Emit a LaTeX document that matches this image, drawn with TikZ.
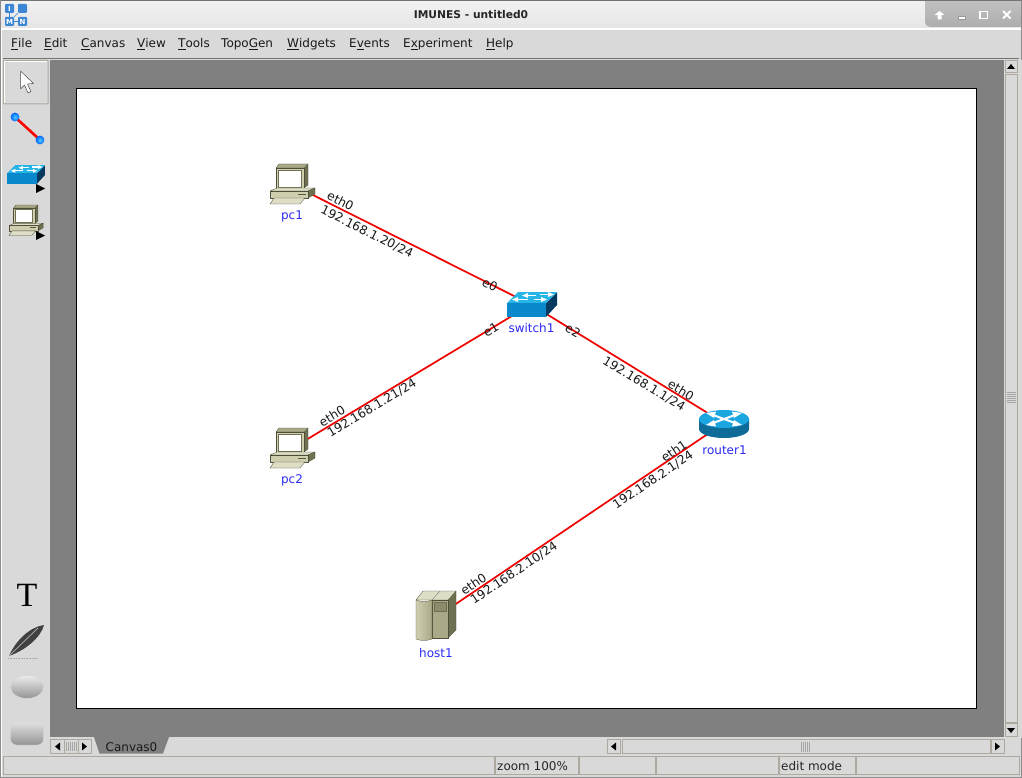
\documentclass[tikz,border=0pt]{standalone}
\usepackage{fontspec}
\setmainfont{DejaVu Sans}
\newfontfamily\serifT{Liberation Serif}
\usetikzlibrary{shapes.geometric}
\definecolor{tkbg}{HTML}{D9D9D9}
\definecolor{tkline}{HTML}{ADA99E}
\definecolor{canvasgray}{HTML}{808080}
\definecolor{labelblue}{HTML}{2A2AF5}
\definecolor{linkred}{HTML}{F00000}
\definecolor{beigeA}{HTML}{CFCFB0}
\definecolor{beigeB}{HTML}{A9A988}
\definecolor{beigeC}{HTML}{6F6F52}
\definecolor{beigeD}{HTML}{DEDEC6}
\definecolor{swfront}{HTML}{0A88CC}
\definecolor{swtop}{HTML}{27B4E6}
\definecolor{swside}{HTML}{063A60}
\definecolor{rttop}{HTML}{1CA6E0}
\definecolor{rtside}{HTML}{0F6C98}
\definecolor{logoblue}{HTML}{3C86D6}
\newcommand{\uc}[1]{\underline{#1}}
\tikzset{
  x=1pt,y=-1pt,
  link/.style={draw=linkred,line width=1.7pt},
  iflabel/.style={font=\fontsize{12.2}{13}\selectfont,text=black!90,inner sep=0pt},
  nodelabel/.style={font=\fontsize{12}{13}\selectfont,text=labelblue,inner sep=0pt},
  menulabel/.style={font=\fontsize{12}{13}\selectfont,text=black!90,inner sep=0pt,anchor=base west},
  statuslabel/.style={font=\fontsize{12}{13}\selectfont,text=black!85,inner sep=0pt,anchor=base west},
  well/.style={draw=tkline,line width=1pt,fill=tkbg},
  iconedge/.style={draw=beigeC!70!black,line width=.3pt,line join=round},
  pc icon/.pic={
    \fill[iconedge,fill=beigeC] (13,-17)--(17,-21)--(17,0)--(13,3)--cycle;
    \fill[iconedge,fill=beigeB] (-15,-17)--(-12,-21)--(17,-21)--(13,-17)--cycle;
    \fill[iconedge,fill=beigeA] (-15,-17) rectangle (13,3);
    \fill[draw=beigeC,line width=.7pt,fill=white] (-13,-15) rectangle (10,2);
    \fill[iconedge,fill=beigeD] (-21,6)--(-14,3)--(24,3)--(17,6)--cycle;
    \fill[iconedge,fill=beigeC] (17,6)--(24,3)--(24,9)--(17,13)--cycle;
    \fill[iconedge,fill=beigeA] (-21,6) rectangle (17,13);
    \draw[beigeC!80!black,line width=.7pt] (7,9)--(15,9);
    \fill[iconedge,fill=beigeD] (-17,13)--(14,13)--(9,19)--(-21,19)--cycle;
  },
  switch icon/.pic={
    \fill[swside] (15,-2)--(26,-13)--(26,0)--(15,12)--cycle;
    \fill[swtop] (-24,-2)--(-13,-13)--(26,-13)--(15,-2)--cycle;
    \fill[swfront] (-24,-2) rectangle (15,12);
    \draw[white,line width=1.3pt] (-6,-9.5)--(5,-9.5);
    \draw[white,line width=1.3pt] (9,-10.5)--(20,-10.5);
    \draw[white,line width=1.3pt] (-15,-5.5)--(-3,-5.5);
    \draw[white,line width=1.3pt] (3,-5.5)--(13,-5.5);
    \fill[white] (-9,-9.5)--(-3,-12)--(-3,-7)--cycle;
    \fill[white] (23,-10.5)--(17,-13)--(17,-8)--cycle;
    \fill[white] (-19,-5.5)--(-13,-8)--(-13,-3)--cycle;
    \fill[white] (16,-5.5)--(10,-8)--(10,-3)--cycle;
  },
  router icon/.pic={
    \fill[rtside] (-25,-5) -- (-25,5) arc[start angle=180,end angle=0,x radius=25,y radius=9] -- (25,-5) -- cycle;
    \fill[rttop] (0,-5) ellipse[x radius=25,y radius=9];
    \draw[white,line width=2pt] (-11,-9)--(11,-1);
    \draw[white,line width=2pt] (11,-9)--(-11,-1);
    \fill[white] (-18,-11)--(-8,-12.5)--(-10,-6)--cycle;
    \fill[white] (18,-11)--(8,-12.5)--(10,-6)--cycle;
    \fill[white] (-18,1)--(-8,2.5)--(-10,-4)--cycle;
    \fill[white] (18,1)--(8,2.5)--(10,-4)--cycle;
  },
  host icon/.pic={
    \fill[iconedge,fill=beigeC] (13,-16)--(21,-25)--(21,14)--(13,22)--cycle;
    \fill[iconedge,fill=beigeD] (-19,-16)--(-12,-25)--(21,-25)--(13,-16)--cycle;
    \draw[black!50,line width=.4pt] (-3,-16)--(5,-25);
    \fill[iconedge,fill=beigeB] (-3,-16) rectangle (13,22);
    \fill[draw=beigeC,line width=.7pt,fill=beigeC!50!beigeB] (-1,-14) rectangle (11,-5);
    \shade[left color=beigeA,middle color=beigeD,right color=beigeB] (-19,-16) .. controls (-14,-14) and (-8,-14) .. (-3,-16) -- (-3,23) .. controls (-8,25) and (-14,25) .. (-19,23) -- cycle;
    \draw[beigeC!70!black,line width=.3pt] (-19,-16) .. controls (-14,-14) and (-8,-14) .. (-3,-16) -- (-3,23) .. controls (-8,25) and (-14,25) .. (-19,23) -- cycle;
  }
}
\begin{document}
\begin{tikzpicture}
\useasboundingbox (0,0) rectangle (1022,778);
% window
\fill[tkbg] (0,0) rectangle (1022,778);
\shade[top color=white!95!black,bottom color=white!90!black] (0,0) rectangle (1022,28);
\fill[white] (0,28) rectangle (1022,30);
\draw[black!55,line width=1pt] (0,.5)--(1022,.5);
\shade[top color=black!22,bottom color=black!32,rounded corners=5pt] (925,-8) rectangle (1030,27);
\draw[black!55,line width=1pt] (925,.5)--(1022,.5);
\draw[white,line width=1pt] (1.5,30)--(1.5,778);
\draw[black!45,line width=1pt] (.5,0)--(.5,778);
\draw[black!45,line width=1pt] (1021.5,0)--(1021.5,778);
\draw[black!45,line width=1pt] (0,777.5)--(1022,777.5);
% window buttons
\node[inner sep=0pt,font=\bfseries\fontsize{10.7}{13}\selectfont,text=black!85] (title) at (471,15) {IMUNES - untitled0};
\fill[white] (939.5,11)--(934.5,15)--(937.5,15)--(937.5,19.5)--(941.5,19.5)--(941.5,15)--(944.5,15)--cycle;
\fill[white,draw=black!40,line width=.4pt] (958.5,16) rectangle (965.5,19.5);
\draw[white,line width=1.6pt] (980,11.5) rectangle (987.5,18.5);
\draw[white,line width=2pt] (1003,11)--(1010.5,18.5);
\draw[white,line width=2pt] (1010.5,11)--(1003,18.5);
% logo
\fill[logoblue,rounded corners=1pt] (5,4) rectangle (14,13);
\fill[logoblue,rounded corners=1pt] (18,4) rectangle (27,13);
\fill[logoblue,rounded corners=1pt] (5,17) rectangle (14,26);
\fill[logoblue,rounded corners=1pt] (18,17) rectangle (27,26);
\draw[logoblue,line width=.6pt] (9.5,13)--(9.5,17) (14,21.5)--(18,21.5) (14,17)--(18,13);
\node[inner sep=0pt,font=\bfseries\fontsize{7}{8}\selectfont,text=white] (logoI) at (9.5,8.5) {I};
\node[inner sep=0pt,font=\bfseries\fontsize{7}{8}\selectfont,text=white] (logoM) at (9.5,21.5) {M};
\node[inner sep=0pt,font=\bfseries\fontsize{7}{8}\selectfont,text=white] (logoN) at (22.5,21.5) {N};
% menu
\draw[black!55,line width=1pt] (3,59)--(1019,59);
\node[menulabel] (mFile) at (11,48) {\uc{F}ile};
\node[menulabel] (mEdit) at (44,48) {\uc{E}dit};
\node[menulabel] (mCanvas) at (81,48) {\uc{C}anvas};
\node[menulabel] (mView) at (137,48) {\uc{V}iew};
\node[menulabel] (mTools) at (178,48) {\uc{T}ools};
\node[menulabel] (mTopo) at (221,48) {Topo\uc{G}en};
\node[menulabel] (mWidgets) at (287,48) {\uc{W}idgets};
\node[menulabel] (mEvents) at (349,48) {E\uc{v}ents};
\node[menulabel] (mExp) at (403,48) {E\uc{x}periment};
\node[menulabel] (mHelp) at (486,48) {\uc{H}elp};
% canvas area
\fill[canvasgray] (50,60) rectangle (1004,737);
\fill[white,draw=black,line width=1pt] (76.5,88.5) rectangle (976.5,708.5);
% links
\coordinate (pc1) at (291,184);
\coordinate (pc2) at (291,449);
\coordinate (switch1) at (531,304.5);
\coordinate (router1) at (724,423);
\coordinate (host1) at (435,618);
\draw[link] (pc1)--(switch1);
\draw[link] (pc2)--(switch1);
\draw[link] (switch1)--(router1);
\draw[link] (host1)--(router1);
% icons
\pic at (291,185) {pc icon};
\pic at (291,449) {pc icon};
\pic at (531,305) {switch icon};
\pic at (724,424) {router icon};
\pic at (435,616) {host icon};
% node labels
\node[nodelabel] (lpc1) at (292,216.5) {pc1};
\node[nodelabel] (lpc2) at (292,480.5) {pc2};
\node[nodelabel] (lsw) at (531.5,328) {switch1};
\node[nodelabel] (lrt) at (724.5,450) {router1};
\node[nodelabel] (lhost) at (436,653) {host1};
% interface labels
\node[iflabel,rotate=-26.5] (i1) at (340.5,201) {eth0};
\node[iflabel,rotate=-26.5] (i2) at (367,232) {192.168.1.20/24};
\node[iflabel,rotate=-26.5] (i3) at (490,285) {e0};
\node[iflabel,rotate=31] (i4) at (491,330) {e1};
\node[iflabel,rotate=31] (i5) at (332,416) {eth0};
\node[iflabel,rotate=31] (i6) at (372,408) {192.168.1.21/24};
\node[iflabel,rotate=-31] (i7) at (573,331) {e2};
\node[iflabel,rotate=-31] (i8) at (644,384) {192.168.1.1/24};
\node[iflabel,rotate=-31] (i9) at (681,390) {eth0};
\node[iflabel,rotate=33.8] (i10) at (674,451) {eth1};
\node[iflabel,rotate=33.8] (i11) at (653,480) {192.168.2.1/24};
\node[iflabel,rotate=33.8] (i12) at (473.5,584) {eth0};
\node[iflabel,rotate=33.8] (i13) at (514,573) {192.168.2.10/24};
% left toolbar
\fill[tkbg,draw=tkline,line width=1pt,rounded corners=.5pt] (3.5,60.5) rectangle (48,104);
\draw[white,line width=.6pt] (4.5,103)--(4.5,61.5)--(47,61.5);
\fill[white,draw=black!70,line width=.5pt,line join=round] (20.5,71)--(20.5,89)--(24.5,85)--(28,93)--(31,91.5)--(27.5,84)--(33.5,83.5)--cycle;
\draw[red,line width=2.6pt] (15,117)--(40,140);
\shade[inner color=blue!30!cyan!70!white,outer color=blue!60!cyan] (15,117) circle (4.4);
\shade[inner color=blue!30!cyan!70!white,outer color=blue!60!cyan] (40,140) circle (4.4);
\pic[scale=.76] at (25.2,175) {switch icon};
\pic[scale=.76] at (25,221) {pc icon};
\fill[black] (36,184)--(45,188.5)--(36,193)--cycle;
\fill[black] (36,231)--(45,235.5)--(36,240)--cycle;
\node[inner sep=0pt,font=\serifT\fontsize{34}{36}\selectfont,text=black] (toolT) at (27,595) {T};
\fill[black!75] (9,656) .. controls (16,640) and (30,627) .. (44,625) .. controls (41,637) and (26,650) .. (9,656) -- cycle;
\draw[black!30,line width=.7pt] (9,656)--(38,628);
\draw[black!35,line width=.6pt,densely dotted] (8,658)--(37,658);
\shade[top color=black!8,bottom color=black!42,draw=white!85!black,line width=.5pt] (27,687) ellipse[x radius=16.5,y radius=11.5];
\shade[top color=black!12,bottom color=black!42,draw=white!85!black,line width=.5pt,rounded corners=6pt] (10.5,722) rectangle (43.5,745);
% left small scroll
\fill[tkbg,draw=tkline,line width=1pt] (50.5,739.5) rectangle (64,753);
\fill[tkbg,draw=tkline,line width=1pt] (64,739.5) rectangle (78,753);
\fill[tkbg,draw=tkline,line width=1pt] (78,739.5) rectangle (91.5,753);
\fill[black] (60,742.5)--(55,746.5)--(60,750.5)--cycle;
\fill[black] (82,742.5)--(87,746.5)--(82,750.5)--cycle;
\foreach \gx in {66.5,68.5,70.5,72.5,74.5,76}{\draw[black!35,line width=.4pt] (\gx,742)--(\gx,751);}
% tab
\fill[canvasgray] (94,737)--(99.5,753.5)--(163,753.5)--(169,737)--cycle;
\node[inner sep=0pt,font=\fontsize{12}{13}\selectfont,text=black!90] (tab) at (131.5,747.5) {Canvas0};
% right scrollbar
\fill[tkbg] (1004,60) rectangle (1022,738);
\fill[tkbg,draw=tkline,line width=1pt] (1005,61) rectangle (1017,73);
\fill[tkbg,draw=tkline,line width=1pt] (1005,75) rectangle (1017,722);
\fill[tkbg,draw=tkline,line width=1pt] (1005,723.5) rectangle (1017,736.5);
\fill[black] (1011,64)--(1007,69)--(1015,69)--cycle;
\fill[black] (1011,733)--(1007,728)--(1015,728)--cycle;
\foreach \gy in {392,394,396,398,400,402}{\draw[black!35,line width=.4pt] (1006.5,\gy)--(1015.5,\gy);}
% bottom scrollbar
\fill[tkbg,draw=tkline,line width=1pt] (607.5,739.5) rectangle (620,753);
\fill[tkbg,draw=tkline,line width=1pt] (622,739.5) rectangle (990,753);
\fill[tkbg,draw=tkline,line width=1pt] (991,739.5) rectangle (1004,753);
\fill[black] (616,742.5)--(611,746.5)--(616,750.5)--cycle;
\fill[black] (995,742.5)--(1000,746.5)--(995,750.5)--cycle;
\foreach \gx in {801,803,805,807,809}{\draw[black!35,line width=.4pt] (\gx,741.5)--(\gx,751.5);}
% status bar
\fill[well] (3.5,756.5) rectangle (494,774.5);
\fill[well] (495,756.5) rectangle (578,774.5);
\fill[well] (579,756.5) rectangle (655,774.5);
\fill[well] (656,756.5) rectangle (778,774.5);
\fill[well] (779,756.5) rectangle (855,774.5);
\fill[well] (856,756.5) rectangle (1019,774.5);
\node[statuslabel] (szoom) at (497,770) {zoom 100\%};
\node[statuslabel] (smode) at (781,770) {edit mode};
\end{tikzpicture}
\end{document}
